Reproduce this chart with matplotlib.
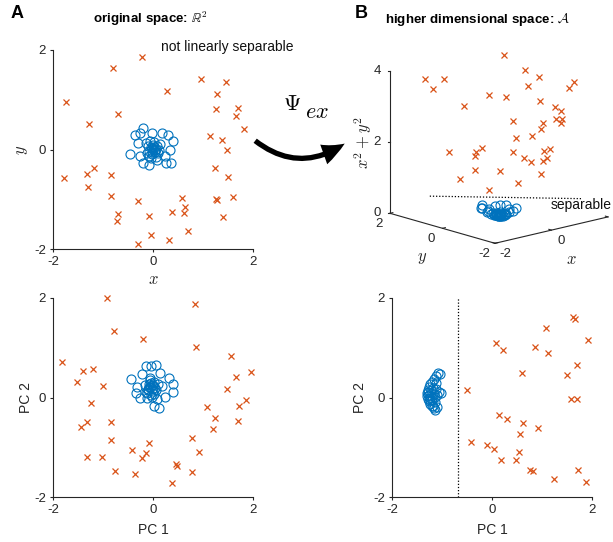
import numpy as np
import matplotlib
matplotlib.use("Agg")
import matplotlib.pyplot as plt
from matplotlib.patches import FancyArrowPatch

plt.rcParams["font.family"] = ["Liberation Sans", "DejaVu Sans"]
plt.rcParams["mathtext.fontset"] = "cm"
plt.rcParams["axes.unicode_minus"] = False

BLUE = "#0072BD"
RED = "#D95319"
INK = "#262626"
W, H = 613, 542

# --- original 2D data (panel A, top) ---
in_x = [-0.36, -0.27, -0.20, -0.03, 0.18, 0.29, 0.39, -0.31, -0.15, 0.13,
        0.33, -0.47, -0.27, -0.21, -0.08, 0.25, 0.35, 0.23, 0.07, -0.09,
        -0.05, 0.00, 0.03, -0.08, 0.05, -0.02, 0.08, -0.10, 0.00, 0.02,
        -0.04, 0.10, -0.12, 0.06, -0.06, 0.12, -0.02, 0.04, -0.03, 0.01]
in_y = [0.29, 0.34, 0.43, 0.34, 0.34, 0.29, 0.17, 0.13, 0.14, 0.12,
        -0.01, -0.09, -0.14, -0.27, -0.32, -0.27, -0.27, -0.13, -0.21, -0.14,
        0.05, 0.10, -0.05, -0.03, 0.02, -0.10, 0.08, 0.08, 0.00, 0.15,
        -0.18, -0.08, -0.08, -0.15, 0.17, 0.00, 0.04, -0.02, -0.06, 0.06]
out_x = [-0.23, -0.81, -1.74, -1.28, -0.71, 0.27, 0.95, 1.45, 1.27, 1.25,
         1.70, 1.65, 1.81, 1.13, 1.37, 1.47, -1.78, -1.33, -1.19, -1.31,
         -0.84, -0.84, -0.70, -0.73, -0.30, -0.09, -0.05, -0.30, 0.31, 0.37,
         0.57, 0.63, 0.62, 0.69, 1.23, 1.49, 1.25, 1.28, 1.60, 1.39]
out_y = [1.85, 1.64, 0.96, 0.51, 0.71, 1.18, 1.41, 1.36, 1.11, 0.82,
         0.84, 0.67, 0.41, 0.27, 0.20, -0.01, -0.58, -0.50, -0.37, -0.76,
         -0.52, -0.94, -1.30, -1.44, -1.04, -1.33, -1.72, -1.89, -1.81, -1.26,
         -0.97, -1.16, -1.28, -1.63, -0.38, -0.56, -1.00, -1.02, -0.96, -1.35]

# --- PCA of the original data (panel A, bottom) ---
pca_in_x = [-0.15, -0.05, 0.05, 0.13, -0.45, -0.33, -0.35, -0.27, -0.13, -0.03,
            0.08, 0.23, 0.32, 0.39, 0.40, 0.02, 0.12, 0.17, -0.23, -0.07,
            -0.10, -0.04, 0.00, -0.12, -0.06, -0.02, 0.04, -0.09, -0.14, 0.06,
            -0.05, -0.08, 0.02, -0.11, -0.03, 0.01, -0.07, -0.16, 0.09, -0.01]
pca_in_y = [0.64, 0.64, 0.66, 0.49, 0.38, 0.21, 0.09, -0.01, -0.01, 0.01,
            -0.03, 0.01, 0.39, 0.28, 0.12, -0.18, -0.22, 0.24, 0.47, 0.22,
            0.15, 0.30, 0.25, 0.10, 0.35, 0.18, 0.20, 0.28, 0.12, 0.15,
            0.05, 0.22, 0.32, 0.18, 0.26, 0.08, 0.40, 0.26, 0.28, 0.14]
pca_out_x = [-0.93, 0.83, -0.79, -0.21, 0.85, -1.83, -1.40, -1.21, -1.53, -1.01,
             -1.25, 1.55, 1.65, 1.95, 1.47, 1.85, 1.71, 1.70, 1.07, 1.23,
             1.19, 0.78, 0.91, 0.77, -1.44, -1.32, -0.85, -0.84, -1.32, -1.03,
             -0.77, -0.36, -0.42, -0.15, -0.23, -0.09, 0.46, 0.47, 0.37]
pca_out_y = [1.99, 1.87, 1.34, 1.18, 1.02, 0.72, 0.53, 0.57, 0.31, 0.24,
             -0.11, 0.83, 0.41, 0.51, 0.18, -0.06, -0.18, -0.48, -0.20, -0.41,
             -0.64, -0.81, -1.10, -1.50, -0.59, -0.49, -0.49, -0.85, -1.19, -1.19,
             -1.48, -1.54, -1.06, -1.11, -1.22, -0.92, -1.34, -1.38, -1.71]

# --- PCA after the lift (panel B, bottom) ---
lift_in_x = [-1.08, -1.05, -1.12, -1.16, -1.20, -1.24, -1.27, -1.29, -1.31, -1.30,
             -1.29, -1.27, -1.24, -1.21, -1.17, -1.14, -1.02, -1.07, -1.10, -1.15,
             -1.18, -1.22, -1.25, -1.20, -1.15, -1.12, -1.19, -1.26, -1.28, -1.23,
             -1.13, -1.17, -1.20, -1.24, -1.10]
lift_in_y = [0.50, 0.47, 0.44, 0.38, 0.32, 0.27, 0.21, 0.15, 0.09, 0.03,
             -0.03, -0.08, -0.13, -0.18, -0.22, -0.25, 0.10, 0.12, 0.05, 0.02,
             0.20, 0.10, 0.00, -0.05, -0.10, 0.30, -0.17, 0.05, 0.12, 0.16,
             0.18, 0.08, 0.00, -0.06, -0.20]
lift_out_x = [-0.50, -0.43, 0.08, 0.21, 1.08, 1.62, 1.65, 1.91, 0.86, 1.12,
              0.60, 1.70, 1.50, 1.57, 1.70, 0.13, 0.29, 0.62, 0.92, 0.56,
              -0.11, 0.04, 0.54, 0.18, 0.48, 0.76, 0.82, 1.72, 1.24, 1.87]
lift_out_y = [0.15, -0.89, 1.10, 0.95, 1.39, 1.61, 1.58, 1.16, 1.02, 0.89,
              0.49, 0.65, 0.46, -0.04, -0.04, -0.36, -0.43, -0.51, -0.62, -0.74,
              -0.96, -1.03, -1.09, -1.26, -1.26, -1.45, -1.48, -1.45, -1.64, -1.70]
lift_boundary = -0.68

TICKS = [-2, 0, 2]
Z_TICKS = [0, 2, 4]
SEP_LEVEL = 0.5          # height of the dotted separating line in the lifted space
SEP_SPAN = [-1.27, 1.52]  # extent of that line along the screen-horizontal direction

fig = plt.figure(figsize=(W / 100, H / 100), dpi=100)

# overlay in figure pixels (origin top-left) for the 3D sketch, arrow and labels
ov = fig.add_axes([0, 0, 1, 1], zorder=0)
ov.set_xlim(0, W)
ov.set_ylim(H, 0)
ov.axis("off")


def px_axes(left, top, right, bottom):
    return fig.add_axes([left / W, 1 - bottom / H, (right - left) / W, (bottom - top) / H],
                        zorder=1, facecolor="none")


def style_2d(ax, xlabel, ylabel, xl_pos, yl_pos):
    ax.set_xlim(-2, 2)
    ax.set_ylim(-2, 2)
    ax.set_xticks(TICKS)
    ax.set_yticks(TICKS)
    for s in ("top", "right"):
        ax.spines[s].set_visible(False)
    for s in ("left", "bottom"):
        ax.spines[s].set_color(INK)
        ax.spines[s].set_linewidth(0.8)
    ax.tick_params(direction="out", length=2, width=0.8, colors=INK,
                   labelsize=9.5, pad=3)
    fs = 12 if xlabel.startswith("$") else 10
    ax.set_xlabel(xlabel, fontsize=fs, color=INK, va="center")
    ax.set_ylabel(ylabel, fontsize=fs, color=INK, va="center")
    ax.xaxis.set_label_coords(0.5, xl_pos)
    ax.yaxis.set_label_coords(yl_pos, 0.5)


def scatter_pair(ax, ix, iy, ox, oy):
    ax.plot(ox, oy, "x", color=RED, ms=4, mew=0.9, clip_on=False)
    ax.plot(ix, iy, "o", mfc="none", mec=BLUE, ms=6.5, mew=0.8, clip_on=False)


# A top: original space
ax1 = px_axes(53, 50, 253, 249)
scatter_pair(ax1, in_x, in_y, out_x, out_y)
style_2d(ax1, "$x$", "$y$", -0.155, -0.155)

# A bottom: PCA
ax2 = px_axes(53, 298, 253, 497)
scatter_pair(ax2, pca_in_x, pca_in_y, pca_out_x, pca_out_y)
style_2d(ax2, "PC 1", "PC 2", -0.166, -0.135)

# B bottom: PCA of lifted data
ax4 = px_axes(392, 298, 592, 497)
scatter_pair(ax4, lift_in_x, lift_in_y, lift_out_x, lift_out_y)
ax4.axvline(lift_boundary, color="black", ls=(0, (1, 1.5)), lw=0.9)
style_2d(ax4, "PC 1", "PC 2", -0.166, -0.16)


# B top: lifted space, drawn with a fixed oblique projection into figure pixels
def project(x, y, z):
    x, y, z = (np.asarray(a, dtype=float) for a in (x, y, z))
    u = 495 + 28.25 * (x + 2) - 26.25 * (y + 2)
    v = 243.3 - 6.6 * (x + 2) - 7.5 * (y + 2) - 35.6 * z
    return u, v


def lift(x, y):
    x, y = np.asarray(x), np.asarray(y)
    return x, y, x ** 2 + y ** 2


ou, ovv = project(*lift(out_x, out_y))
iu, ivv = project(*lift(in_x, in_y))
ov.plot(ou, ovv, "x", color=RED, ms=4, mew=0.9)
ov.plot(iu, ivv, "o", mfc="none", mec=BLUE, ms=6.5, mew=0.8)

# box edges: z axis at the back-left corner, x and y along the floor
for p0, p1 in [((-2, 2, 0), (-2, 2, 4)), ((-2, 2, 0), (-2, -2, 0)), ((-2, -2, 0), (2, -2, 0))]:
    uu, vv = project(*zip(p0, p1))
    ov.plot(uu, vv, color=INK, lw=0.8)
for t in TICKS:
    uu, vv = project([t, t], [-2, -1.9], [0, 0])
    ov.plot(uu, vv, color=INK, lw=0.8)
    u0, v0 = project(t, -2, 0)
    ov.text(u0 + 10, v0 + 11, str(t), ha="center", va="center", fontsize=9.5, color=INK)
    uu, vv = project([-2, -1.9], [t, t], [0, 0])
    ov.plot(uu, vv, color=INK, lw=0.8)
    u0, v0 = project(-2, t, 0)
    ov.text(u0 - 11, v0 + 11, str(t), ha="center", va="center", fontsize=9.5, color=INK)
for t in Z_TICKS:
    u0, v0 = project(-2, 2, t)
    ov.plot([u0 - 2.5, u0], [v0, v0], color=INK, lw=0.8)
    ov.text(u0 - 13, v0, str(t), ha="center", va="center", fontsize=9.5, color=INK)

um, vm = project(0, -2, 0)
ov.text(um + 20, vm + 29, "$x$", ha="center", va="center", fontsize=12, color=INK)
um, vm = project(-2, 0, 0)
ov.text(um - 20, vm + 30, "$y$", ha="center", va="center", fontsize=12, color=INK)
um, vm = project(-2, 2, 2)
ov.text(um - 27, vm, "$x^2 + y^2$", ha="center", va="center", rotation=90,
        fontsize=12, color=INK)

su, sv = project(SEP_SPAN, [-s for s in SEP_SPAN], [SEP_LEVEL, SEP_LEVEL])
ov.plot(su, sv, color="black", ls=(0, (1, 1.5)), lw=0.9)
ov.text(551, 205, "separable", ha="left", va="center", fontsize=10, color="#111111")

# transformation arrow
arrow = FancyArrowPatch((253, 139), (347, 142), connectionstyle="arc3,rad=0.38",
                        arrowstyle="simple,head_length=17,head_width=15,tail_width=3.8",
                        mutation_scale=1, color="black", lw=0)
ov.add_patch(arrow)
ov.text(292, 105, r"$\Psi$", ha="center", va="center", fontsize=16)
ov.text(317, 112, r"$ex$", ha="center", va="center", fontsize=16)

# panel letters, titles, annotations
ov.text(11, 14, "A", ha="left", va="center", fontsize=13, fontweight="bold")
ov.text(355, 13, "B", ha="left", va="center", fontsize=13, fontweight="bold")
ov.text(150, 19, r"original space: $\mathbb{R}^2$", ha="center", va="center",
        fontsize=9.6, fontweight="bold")
ov.text(478, 19, r"higher dimensional space: $\mathcal{A}$", ha="center", va="center",
        fontsize=9.6, fontweight="bold")
ov.text(227, 47, "not linearly separable", ha="center", va="center", fontsize=10,
        color="#111111")

fig.savefig("out.png", dpi=100, facecolor="white")
